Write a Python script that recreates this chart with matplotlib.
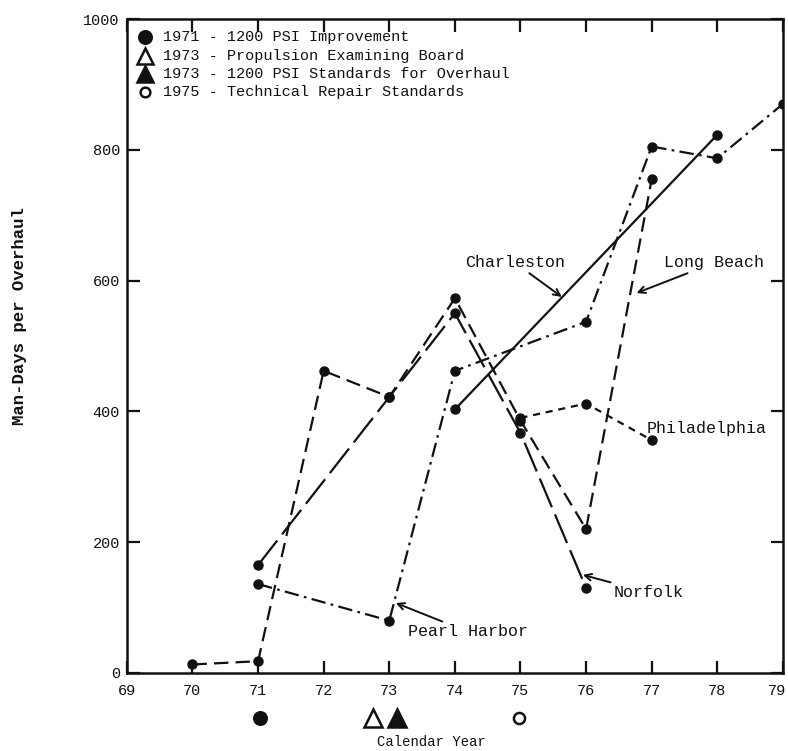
import matplotlib
matplotlib.use('Agg')
import matplotlib.pyplot as plt
import matplotlib.transforms as mtransforms

# 1. Global Configuration
OUTPUT_PLOT_FILE = "out.png"

plt.rcParams['font.family'] = ['Liberation Mono', 'DejaVu Sans Mono']
plt.rcParams['axes.unicode_minus'] = False

INK = '#111111'
LW = 1.6
MS = 6.5

# 2. Data
x_ticks = [69, 70, 71, 72, 73, 74, 75, 76, 77, 78, 79]
y_ticks = [0, 200, 400, 600, 800, 1000]

charleston_x = [74, 78]
charleston_y = [403, 823]

long_beach_x = [70, 71, 72, 73, 74, 75, 76, 77]
long_beach_y = [13, 18, 462, 422, 573, 386, 220, 755]

norfolk_x = [71, 73, 74, 75, 76]
norfolk_y = [165, 422, 550, 367, 130]

pearl_x = [71, 73, 74, 76, 77, 78, 79]
pearl_y = [136, 80, 462, 537, 805, 787, 870]

phila_x = [75, 76, 77]
phila_y = [390, 412, 356]

event_labels = [
    "1971 - 1200 PSI Improvement",
    "1973 - Propulsion Examining Board",
    "1973 - 1200 PSI Standards for Overhaul",
    "1975 - Technical Repair Standards",
]
event_x = [71.03, 72.75, 73.12, 74.98]
event_markers = ['o', '^', '^', 'o']
event_filled = [True, False, True, False]

series = [
    ("Charleston", charleston_x, charleston_y, '-'),
    ("Long Beach", long_beach_x, long_beach_y, (0, (6.5, 3.2))),
    ("Norfolk", norfolk_x, norfolk_y, (0, (14, 3.5))),
    ("Pearl Harbor", pearl_x, pearl_y, (0, (6.5, 2.4, 1.2, 2.4))),
    ("Philadelphia", phila_x, phila_y, (0, (3.2, 2.6))),
]

# 3. Visualization
fig = plt.figure(figsize=(7.88, 7.51), dpi=100)
ax = fig.add_axes([0.161, 0.1039, 0.8325, 0.8708])

for name, xs, ys, ls in series:
    ax.plot(xs, ys, color=INK, linewidth=LW, linestyle=ls,
            marker='o', markersize=MS, markerfacecolor=INK,
            markeredgecolor=INK, zorder=3)

ax.set_xlim(69, 79)
ax.set_ylim(0, 1000)
ax.set_xticks(x_ticks)
ax.set_yticks(y_ticks)
ax.set_xticklabels([str(v) for v in x_ticks])
ax.set_yticklabels([str(v) for v in y_ticks])

ax.tick_params(axis='both', direction='in', length=9, width=1.6,
               labelsize=11, colors=INK, top=True, right=True)
ax.tick_params(axis='x', pad=8)
ax.tick_params(axis='y', pad=5)
for sp in ax.spines.values():
    sp.set_linewidth(1.8)
    sp.set_color(INK)

# keep the last year label inside the figure edge
last_lbl = ax.get_xticklabels()[-1]
last_lbl.set_transform(last_lbl.get_transform() +
                       mtransforms.ScaledTranslation(-6 / 100, 0, fig.dpi_scale_trans))

# shipyard labels
ann_font = dict(fontsize=12, color=INK)
arrow = dict(arrowstyle='->', color=INK, lw=1.4, shrinkA=0, shrinkB=0)
ax.annotate("Charleston", xy=(75.63, 575), xytext=(74.92, 627),
            ha='center', va='center', arrowprops=arrow, **ann_font)
ax.annotate("Long Beach", xy=(76.77, 581), xytext=(77.95, 627),
            ha='center', va='center', arrowprops=arrow, **ann_font)
ax.annotate("Norfolk", xy=(75.95, 150), xytext=(76.95, 123),
            ha='center', va='center', arrowprops=arrow, **ann_font)
ax.annotate("Pearl Harbor", xy=(73.1, 107), xytext=(74.2, 63),
            ha='center', va='center', arrowprops=arrow, **ann_font)
ax.text(76.93, 374, "Philadelphia", ha='left', va='center', **ann_font)

# legend of events
leg_y = [0.972, 0.943, 0.916, 0.888]
leg_sizes = [9, 12, 12, 7]
for lbl, mk, filled, sz, yy in zip(event_labels, event_markers, event_filled,
                                   leg_sizes, leg_y):
    ax.plot([0.027], [yy], marker=mk, markersize=sz,
            markerfacecolor=INK if filled else 'white', markeredgecolor=INK,
            markeredgewidth=1.8, transform=ax.transAxes, clip_on=False,
            linestyle='none')
    ax.text(0.055, yy, lbl, transform=ax.transAxes, ha='left', va='center',
            fontsize=11, color=INK)

# event markers below the axis
below_sizes = [9, 13, 13, 8]
trans = ax.get_xaxis_transform()
for ex, mk, filled, sz in zip(event_x, event_markers, event_filled, below_sizes):
    ax.plot([ex], [-0.069], marker=mk, markersize=sz,
            markerfacecolor=INK if filled else 'white', markeredgecolor=INK,
            markeredgewidth=1.8, transform=trans, clip_on=False,
            linestyle='none')

ax.text(0.465, -0.105, "Calendar Year", transform=ax.transAxes,
        ha='center', va='center', fontsize=10, color=INK)
ax.text(-0.163, 0.546, "Man-Days per Overhaul", transform=ax.transAxes,
        ha='center', va='center', rotation=90, fontsize=12.5,
        fontweight='bold', color=INK)

plt.savefig(OUTPUT_PLOT_FILE, dpi=100)
